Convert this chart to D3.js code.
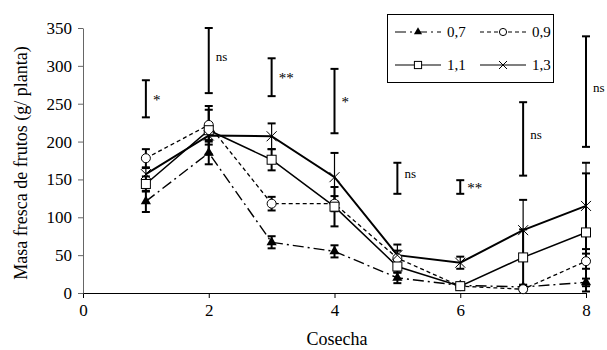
<!DOCTYPE html>
<html lang="es">
<head>
<meta charset="UTF-8" />
<title>Masa fresca de frutos</title>
<style>
  body { margin: 0; background: #fff; }
  svg { display: block; }
  svg text { font-family: "Liberation Serif", "Times New Roman", serif; fill: #000; }
</style>
</head>
<body>
<div class="chart"></div>
<script src="https://cdn.jsdelivr.net/npm/d3@7"></script>
<script>
// data
const cosecha = [1, 2, 3, 4, 5, 6, 7, 8];
const seriesNames = ["0,7", "0,9", "1,1", "1,3"];

const v07 = [121, 185, 67, 55, 20, 10, 8, 14];
const v09 = [178, 222, 118, 118, 46, 9, 5, 42];
const v11 = [144, 215, 176, 114, 35, 9, 47, 80];
const v13 = [157, 208, 207, 153, 50, 40, 83, 115];

const e07 = [14, 15, 8, 8, 7, 3, 3, 5];
const e09 = [12, 20, 9, 10, 10, 3, 3, 10];
const e11 = [10, 32, 14, 26, 8, 5, 37, 78];
const e13 = [8, 12, 17, 32, 14, 8, 40, 57];

// barras de significancia (min, max, etiqueta)
const sigLow = [232, 264, 260, 211, 131, 131, 155, 193];
const sigHigh = [281, 350, 310, 296, 172, 149, 252, 339];
const sigLabel = ["*", "ns", "**", "*", "ns", "**", "ns", "ns"];

const xTicks = [0, 2, 4, 6, 8];
const yTicks = [0, 50, 100, 150, 200, 250, 300, 350];

// estilos
const styles = [
  { dash: "11,4,2,4", width: 1.4, marker: "triangle" },
  { dash: "4,3", width: 1.3, marker: "circle" },
  { dash: null, width: 1.5, marker: "square" },
  { dash: null, width: 2, marker: "cross" }
];

const W = 607, H = 350;
const svg = d3.select(".chart").append("svg").attr("width", W).attr("height", H);

const x = d3.scaleLinear().domain([0, 8]).range([83, 586]);
const y = d3.scaleLinear().domain([0, 350]).range([293, 28]);

const serif = "Liberation Serif";

// ejes
svg.append("g")
  .attr("transform", `translate(0,${y(0)})`)
  .call(d3.axisBottom(x).tickValues(xTicks).tickSize(5).tickPadding(6).tickSizeOuter(0))
  .call(g => g.select(".domain").attr("stroke-width", 1.2))
  .call(g => g.selectAll("text").style("font-family", serif).style("font-size", "17px"));

svg.append("g")
  .attr("transform", `translate(${x(0)},0)`)
  .call(d3.axisLeft(y).tickValues(yTicks).tickSize(5).tickPadding(6).tickSizeOuter(0))
  .call(g => g.select(".domain").attr("stroke", "#666"))
  .call(g => g.selectAll(".tick line").attr("stroke", "#666"))
  .call(g => g.selectAll("text").style("font-family", serif).style("font-size", "17px"));

svg.append("text")
  .attr("transform", "translate(27,163) rotate(-90)")
  .attr("text-anchor", "middle")
  .style("font-size", "18px")
  .text("Masa fresca de frutos (g/ planta)");

svg.append("text")
  .attr("x", 337).attr("y", 345)
  .attr("text-anchor", "middle")
  .style("font-size", "18px")
  .text("Cosecha");

// barras de significancia
const sig = svg.append("g").attr("stroke", "#000").attr("stroke-width", 2);
cosecha.forEach((c, i) => {
  const cx = x(c);
  sig.append("line").attr("x1", cx).attr("x2", cx).attr("y1", y(sigLow[i])).attr("y2", y(sigHigh[i]));
  sig.append("line").attr("x1", cx - 4).attr("x2", cx + 4).attr("y1", y(sigLow[i])).attr("y2", y(sigLow[i]));
  sig.append("line").attr("x1", cx - 4).attr("x2", cx + 4).attr("y1", y(sigHigh[i])).attr("y2", y(sigHigh[i]));
  svg.append("text")
    .attr("x", cx + 7)
    .attr("y", y((sigLow[i] + sigHigh[i]) / 2) + (sigLabel[i] === "ns" ? 0 : 6))
    .style("font-family", serif)
    .style("font-size", sigLabel[i] === "ns" ? "13px" : "15px")
    .style("fill", "#000")
    .text(sigLabel[i]);
});

const values = [v07, v09, v11, v13];
const errs = [e07, e09, e11, e13];

// barras de error
values.forEach((vals, s) => {
  const g = svg.append("g").attr("stroke", "#000").attr("stroke-width", 2);
  vals.forEach((v, i) => {
    const cx = x(cosecha[i]);
    const lo = Math.max(0, v - errs[s][i]), hi = v + errs[s][i];
    g.append("line").attr("x1", cx).attr("x2", cx).attr("y1", y(lo)).attr("y2", y(hi)).attr("stroke-width", s === 3 ? 1.2 : 2);
    [lo, hi].forEach(e => {
      g.append("line").attr("x1", cx - 4).attr("x2", cx + 4).attr("y1", y(e)).attr("y2", y(e));
    });
  });
});

// líneas
const line = d3.line().x((d, i) => x(cosecha[i])).y(d => y(d));
values.forEach((vals, s) => {
  svg.append("path")
    .attr("d", line(vals))
    .attr("fill", "none")
    .attr("stroke", "#000")
    .attr("stroke-width", styles[s].width)
    .attr("stroke-dasharray", styles[s].dash);
});

// marcadores
function drawMarker(g, type, cx, cy, scale) {
  const k = scale || 1;
  if (type === "triangle") {
    g.append("path")
      .attr("d", d3.symbol().type(d3.symbolTriangle).size(45 * k * k)())
      .attr("transform", `translate(${cx},${cy})`)
      .attr("fill", "#000");
  } else if (type === "circle") {
    g.append("circle").attr("cx", cx).attr("cy", cy).attr("r", 4.5 * k)
      .attr("fill", "#fff").attr("stroke", "#000").attr("stroke-width", 1);
  } else if (type === "square") {
    const s = 9 * k;
    g.append("rect").attr("x", cx - s / 2).attr("y", cy - s / 2).attr("width", s).attr("height", s)
      .attr("fill", "#fff").attr("stroke", "#000").attr("stroke-width", 1);
  } else {
    const s = 5 * k;
    g.append("path")
      .attr("d", `M${cx - s},${cy - s}L${cx + s},${cy + s}M${cx - s},${cy + s}L${cx + s},${cy - s}`)
      .attr("stroke", "#000").attr("stroke-width", 1).attr("fill", "none");
  }
}

values.forEach((vals, s) => {
  const g = svg.append("g");
  vals.forEach((v, i) => drawMarker(g, styles[s].marker, x(cosecha[i]), y(v)));
});

// leyenda
const leg = svg.append("g");
leg.append("rect").attr("x", 387.5).attr("y", 14.5).attr("width", 166).attr("height", 68)
  .attr("fill", "#fff").attr("stroke", "#000").attr("stroke-width", 1);
const legPos = [[395, 32], [480, 32], [395, 65], [480, 65]];
seriesNames.forEach((name, s) => {
  const [lx, ly] = legPos[s];
  leg.append("line").attr("x1", lx).attr("x2", lx + 46).attr("y1", ly).attr("y2", ly)
    .attr("stroke", "#000").attr("stroke-width", 1.2)
    .attr("stroke-dasharray", styles[s].dash);
  drawMarker(leg, styles[s].marker, lx + 23, ly, 0.8);
  leg.append("text").attr("x", lx + 52).attr("y", ly + 5).style("font-size", "15px").text(name);
});
</script>
</body>
</html>
